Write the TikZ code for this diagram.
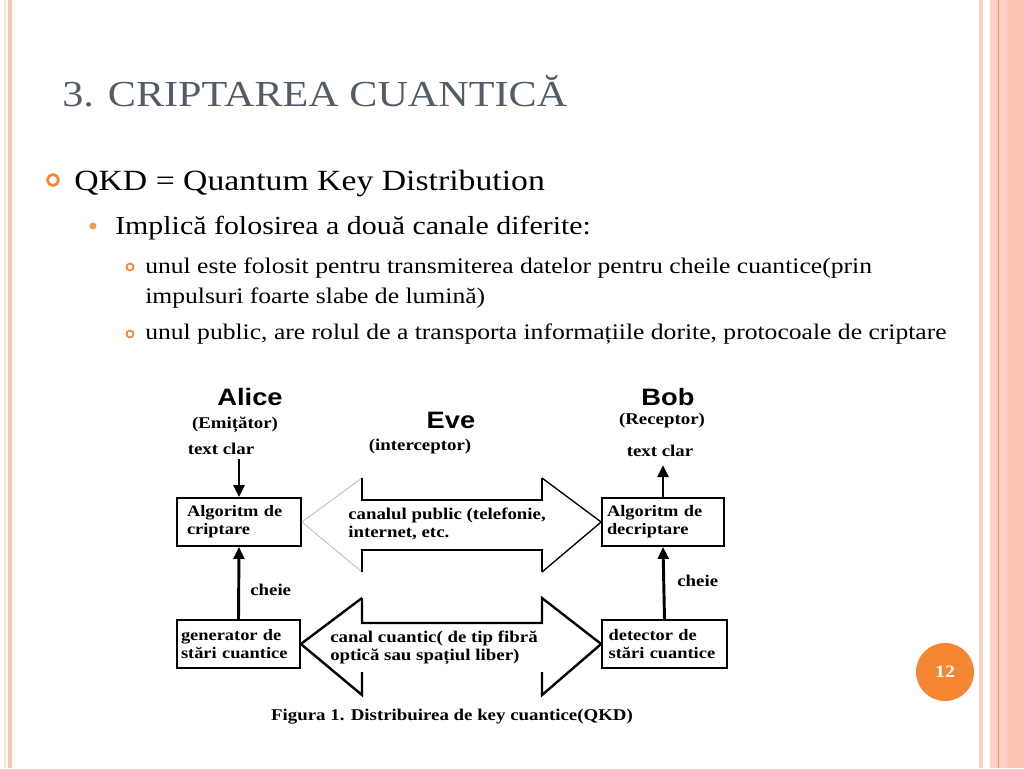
\documentclass[tikz,border=0pt]{standalone}
\usepackage{fontspec}
\setmainfont{Liberation Serif}[FakeStretch=1.15]
\newfontfamily\actorfont{Liberation Sans}[FakeStretch=1.15]
\usetikzlibrary{arrows.meta}
\definecolor{slideorange}{RGB}{245,134,52}
\definecolor{titlegray}{RGB}{83,92,104}
\definecolor{stripe}{RGB}{252,196,178}
\definecolor{stripelight}{RGB}{251,226,214}
\newcommand{\lvlone}{\fontsize{22}{26}\selectfont}
\newcommand{\lvltwo}{\fontsize{19.5}{23}\selectfont}
\newcommand{\lvlthree}{\fontsize{16.7}{22.5}\selectfont}

\begin{document}
\begin{tikzpicture}[x=0.75pt,y=-0.75pt,
    lbl/.style={font=\bfseries\fontsize{12.3}{13.5}\selectfont,inner sep=0pt},
    actor/.style={font=\actorfont\bfseries\fontsize{17.8}{20}\selectfont,inner sep=0pt},
    algbox/.style={draw,line width=1.3pt,minimum height=36pt,align=left,
        font=\bfseries\fontsize{12}{13.5}\selectfont,inner ysep=2pt},
    keyarrow/.style={line width=2.2pt,-{Triangle[length=9pt,width=8pt]}},
    body/.style={anchor=base west,inner sep=0pt,align=left}
]
\useasboundingbox (0,0) rectangle (1024,768);
\fill[white] (0,0) rectangle (1024,768);

\fill[stripelight] (4,0) rectangle (6,768);
\fill[stripe] (8,0) rectangle (12,768);
\fill[stripe!80] (979,0) rectangle (983,768);
\fill[stripe] (990,0) rectangle (1024,768);
\fill[stripe!110!orange!90] (990,0) rectangle (1007,768);
\draw[orange!60!stripe,line width=0.6pt] (998,0) -- (998,768);

\node[body,text=titlegray,font=\fontsize{27.5}{31}\selectfont] (title) at (62,106) {3. CRIPTAREA CUANTICĂ};

\draw[slideorange,line width=2pt] (53,180) circle (5.5);
\node[body,font=\lvlone] (qkd) at (74,190) {QKD = Quantum Key Distribution};
\fill[slideorange!85] (93,226) circle (3.5);
\node[body,font=\lvltwo] (canale) at (115,234) {Implică folosirea a două canale diferite:};
\draw[slideorange,line width=1.3pt] (130,267) circle (3.5);
\node[body,font=\lvlthree] (unul) at (145,303) {unul este folosit pentru transmiterea datelor pentru cheile cuantice(prin\\impulsuri foarte slabe de lumină)};
\draw[slideorange,line width=1.3pt] (130,334) circle (3.5);
\node[body,font=\lvlthree] (public) at (145,339) {unul public, are rolul de a transporta informațiile dorite, protocoale de criptare};

\node[actor] (alice) at (250,397) {Alice};
\node[lbl] (emit) at (235,425) {(Emițător)};
\node[lbl] (txtA) at (221,449) {text clar};
\node[algbox,inner xsep=7.5pt,text width=78pt] (algA) at (239,522) {Algoritm de\\criptare};
\node[algbox,inner xsep=3pt,text width=86.25pt] (gen) at (238.5,644) {generator de\\stări cuantice};
\node[lbl,anchor=west] (cheA) at (250,590) {cheie};

\node[actor] (eve) at (451,420) {Eve};
\node[lbl] (interc) at (420,447) {(interceptor)};

\node[actor] (bob) at (668,397) {Bob};
\node[lbl] (recep) at (662,421) {(Receptor)};
\node[lbl] (txtB) at (660,451) {text clar};
\node[algbox,inner xsep=3.75pt,text width=84pt] (algB) at (663,522) {Algoritm de\\decriptare};
\node[algbox,inner xsep=5pt,text width=83.75pt] (det) at (664.5,644) {detector de\\stări cuantice};
\node[lbl,anchor=west] (cheB) at (677,581) {cheie};

\draw[keyarrow,shorten <=3pt] (algA.north |- txtA.south) -- (algA.north);
\draw[keyarrow] (gen.north) -- (algA.south);
\draw[keyarrow,shorten >=6pt] (algB.north) -- (algB.north |- txtB.south);
\draw[keyarrow] (det.north) -- (algB.south);

\draw[gray!55,line width=0.6pt] (362,478) -- (algA.east) -- (362,572);
\draw[line width=1.5pt] (362,478) -- (362,500) -- (542,500) -- (542,478);
\draw[line width=1.5pt] (362,572) -- (362,550) -- (542,550) -- (542,572);
\draw[line width=1pt] (542,478) -- (algB.west) -- (542,572);
\node[lbl,anchor=west,align=left] (pubch) at (348,524) {canalul public (telefonie,\\internet, etc.};

\draw[line width=1.8pt] (362,598) -- (gen.east) -- (362,695) -- (362,672);
\draw[line width=1.8pt] (362,598) -- (362,623) -- (542,623) -- (542,598) -- (det.west) -- (542,695) -- (542,672);
\node[lbl,anchor=west,align=left] (qch) at (330,648) {canal cuantic( de tip fibră\\optică sau spațiul liber)};

\node[lbl,font=\bfseries\fontsize{12.3}{13}\selectfont] (caption) at (452,717) {Figura 1. Distribuirea de key cuantice(QKD)};

\fill[slideorange] (945,672) circle (29);
\node[text=white,font=\bfseries\fontsize{13}{15}\selectfont,inner sep=0pt] (pagenum) at (945,672) {12};
\end{tikzpicture}
\end{document}
